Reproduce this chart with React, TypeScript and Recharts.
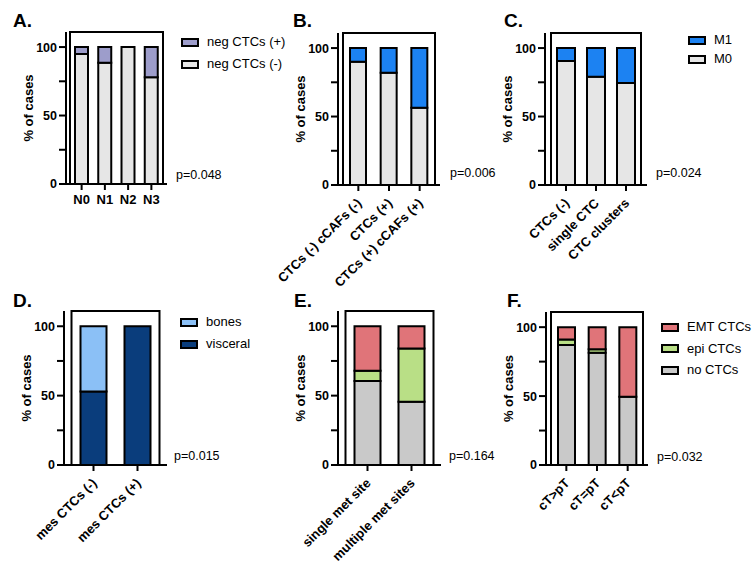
import React from "react"
import { BarChart, Bar, XAxis, YAxis, ReferenceArea } from "recharts"

const FONT = '"Liberation Sans", Arial, Helvetica, sans-serif'

// A. nodal status
const categoriesA = ["N0", "N1", "N2", "N3"]
const negMinusA = [95, 88.5, 100, 78]
const negPlusA = [5, 11.5, 0, 22]

// B. cCAFs
const categoriesB = ["CTCs (-) cCAFs (-)", "CTCs (+)", "CTCs (+) cCAFs (+)"]
const m0B = [90, 82, 56.5]
const m1B = [10, 18, 43.5]

// C. CTC clusters
const categoriesC = ["CTCs (-)", "single CTC", "CTC clusters"]
const m0C = [90.5, 79, 74.5]
const m1C = [9.5, 21, 25.5]

// D. mesenchymal CTCs
const categoriesD = ["mes CTCs (-)", "mes CTCs (+)"]
const visceralD = [53, 100]
const bonesD = [47, 0]

// E. met sites
const categoriesE = ["single met site", "multiple met sites"]
const noCtcE = [60.5, 45.5]
const epiE = [7.5, 38.5]
const emtE = [32, 16]

// F. cT vs pT
const categoriesF = ["cT>pT", "cT=pT", "cT<pT"]
const noCtcF = [87, 81.5, 49.5]
const epiF = [4, 2.5, 0]
const emtF = [9, 16, 50.5]

const yTicks = [0, 25, 50, 75, 100]

type Series = { key: string; label: string; color: string; values: number[] }

function buildRows(cats: string[], series: Series[]) {
  return cats.map((name, i) => {
    const row: any = { name }
    series.forEach((s) => (row[s.key] = s.values[i]))
    return row
  })
}

const seriesA: Series[] = [
  { key: "neg", label: "neg CTCs (-)", color: "#e6e6e6", values: negMinusA },
  { key: "pos", label: "neg CTCs (+)", color: "#9d9dcb", values: negPlusA },
]
const seriesB: Series[] = [
  { key: "m0", label: "M0", color: "#e6e6e6", values: m0B },
  { key: "m1", label: "M1", color: "#1c82f2", values: m1B },
]
const seriesC: Series[] = [
  { key: "m0", label: "M0", color: "#e6e6e6", values: m0C },
  { key: "m1", label: "M1", color: "#1c82f2", values: m1C },
]
const seriesD: Series[] = [
  { key: "vis", label: "visceral", color: "#0a3d7c", values: visceralD },
  { key: "bon", label: "bones", color: "#8bc0f6", values: bonesD },
]
const seriesE: Series[] = [
  { key: "no", label: "no CTCs", color: "#c9c9c9", values: noCtcE },
  { key: "epi", label: "epi CTCs", color: "#b9df86", values: epiE },
  { key: "emt", label: "EMT CTCs", color: "#e07479", values: emtE },
]
const seriesF: Series[] = [
  { key: "no", label: "no CTCs", color: "#c9c9c9", values: noCtcF },
  { key: "epi", label: "epi CTCs", color: "#b9df86", values: epiF },
  { key: "emt", label: "EMT CTCs", color: "#e07479", values: emtF },
]

type PanelCfg = {
  letter: string
  letterX: number
  letterY: number
  categories: string[]
  series: Series[]
  left: number
  right: number
  top: number
  bottom: number
  pad: number
  barSize: number
  rotate: boolean
  p: string
  pX: number
  pY: number
  legend?: { x: number; y: number; gap: number }
}

const panels: PanelCfg[] = [
  { letter: "A.", letterX: 13, letterY: 21, categories: categoriesA, series: seriesA, left: 66, right: 167, top: 32, bottom: 184, pad: 4, barSize: 13, rotate: false, p: "p=0.048", pX: 176, pY: 175, legend: { x: 181, y: 42, gap: 22 } },
  { letter: "B.", letterX: 293, letterY: 21, categories: categoriesB, series: seriesB, left: 338, right: 440, top: 33, bottom: 185, pad: 5, barSize: 16, rotate: true, p: "p=0.006", pX: 450, pY: 173 },
  { letter: "C.", letterX: 504, letterY: 21, categories: categoriesC, series: seriesC, left: 545, right: 647, top: 33, bottom: 185, pad: 6, barSize: 18, rotate: true, p: "p=0.024", pX: 656, pY: 173, legend: { x: 688, y: 40, gap: 19 } },
  { letter: "D.", letterX: 13, letterY: 301, categories: categoriesD, series: seriesD, left: 64, right: 167, top: 311, bottom: 465, pad: 7.5, barSize: 26, rotate: true, p: "p=0.015", pX: 174, pY: 456, legend: { x: 180, y: 322, gap: 22 } },
  { letter: "E.", letterX: 294, letterY: 301, categories: categoriesE, series: seriesE, left: 338, right: 441, top: 311, bottom: 465, pad: 7.5, barSize: 26, rotate: true, p: "p=0.164", pX: 449, pY: 456 },
  { letter: "F.", letterX: 507, letterY: 301, categories: categoriesF, series: seriesF, left: 546, right: 648, top: 312, bottom: 465, pad: 5, barSize: 17, rotate: true, p: "p=0.032", pX: 657, pY: 457, legend: { x: 661, y: 327, gap: 21.7 } },
]

const PAD_L = 90
const PAD_T = 10
const PAD_R = 10
const PAD_B = 110

const axisStyle = { stroke: "#000", strokeWidth: 2 }

function Panel({ cfg }: { cfg: PanelCfg }) {
  const w = cfg.right - cfg.left + PAD_L + PAD_R
  const h = cfg.bottom - cfg.top + PAD_T + PAD_B
  const plotH = cfg.bottom - cfg.top
  const data = buildRows(cfg.categories, cfg.series)

  const xTick = (props: any) => {
    const { x, y, payload } = props
    if (cfg.rotate) {
      return (
        <text
          transform={`translate(${x + 4},${y + 11}) rotate(-45)`}
          textAnchor="end"
          fontSize={13}
          fontWeight="bold"
          fontFamily={FONT}
          fill="#000"
        >
          {payload.value}
        </text>
      )
    }
    return (
      <text x={x} y={y + 2} dy="0.75em" textAnchor="middle" fontSize={13} fontWeight="bold" fontFamily={FONT} fill="#000">
        {payload.value}
      </text>
    )
  }

  const yLabel = () => (
    <text
      x={PAD_L - 38}
      y={PAD_T + plotH / 2}
      transform={`rotate(-90, ${PAD_L - 38}, ${PAD_T + plotH / 2})`}
      textAnchor="middle"
      dominantBaseline="central"
      fontSize={13}
      fontWeight="bold"
      fontFamily={FONT}
      fill="#000"
    >
      % of cases
    </text>
  )

  return (
    <div style={{ position: "absolute", left: cfg.left - PAD_L, top: cfg.top - PAD_T }}>
      <BarChart width={w} height={h} data={data} margin={{ top: PAD_T, right: PAD_R, bottom: 0, left: 0 }} barCategoryGap={0}>
        <XAxis
          dataKey="name"
          height={PAD_B}
          padding={{ left: cfg.pad, right: cfg.pad }}
          axisLine={axisStyle}
          tickLine={axisStyle}
          tickSize={6}
          tickMargin={2}
          interval={0}
          tick={xTick}
        />
        <YAxis
          type="number"
          width={PAD_L}
          domain={[0, 111]}
          ticks={yTicks}
          axisLine={axisStyle}
          tickLine={axisStyle}
          tickSize={7}
          tickMargin={2}
          tickFormatter={(v: number) => (v % 50 === 0 ? String(v) : "")}
          tick={{ fill: "#000", fontSize: 12.5, fontWeight: "bold", fontFamily: FONT }}
          label={{ value: "% of cases", content: yLabel }}
        />
        <ReferenceArea y1={0} y2={111} stroke="#000" strokeWidth={2} fill="none" fillOpacity={0} />
        {cfg.series.map((s) => (
          <Bar
            key={s.key}
            dataKey={s.key}
            stackId="a"
            fill={s.color}
            stroke="#000"
            strokeWidth={2}
            barSize={cfg.barSize}
            isAnimationActive={false}
          />
        ))}
      </BarChart>
    </div>
  )
}

function LegendBox({ cfg }: { cfg: PanelCfg }) {
  if (!cfg.legend) return null
  const items = [...cfg.series].reverse()
  return (
    <>
      {items.map((s, i) => (
        <div
          key={s.key}
          style={{
            position: "absolute",
            left: cfg.legend!.x,
            top: cfg.legend!.y + i * cfg.legend!.gap - 7,
            height: 14,
            display: "flex",
            alignItems: "center",
            whiteSpace: "nowrap",
          }}
        >
          <span
            style={{
              display: "inline-block",
              boxSizing: "border-box",
              width: 18,
              height: 9,
              border: "2px solid #000",
              background: s.color,
              marginRight: 8,
            }}
          />
          <span style={{ fontFamily: FONT, fontSize: 13, color: "#000", lineHeight: "14px" }}>{s.label}</span>
        </div>
      ))}
    </>
  )
}

export default function App() {
  return (
    <div style={{ position: "absolute", left: 0, top: 0, width: 754, height: 567, background: "#fff", overflow: "hidden" }}>
      {panels.map((cfg) => (
        <React.Fragment key={cfg.letter}>
          <Panel cfg={cfg} />
          <LegendBox cfg={cfg} />
          <div
            style={{
              position: "absolute",
              left: cfg.letterX,
              top: cfg.letterY - 10,
              fontFamily: FONT,
              fontSize: 19,
              fontWeight: "bold",
              lineHeight: "20px",
              color: "#000",
            }}
          >
            {cfg.letter}
          </div>
          <div
            style={{
              position: "absolute",
              left: cfg.pX,
              top: cfg.pY - 7,
              fontFamily: FONT,
              fontSize: 12.5,
              lineHeight: "14px",
              color: "#000",
              whiteSpace: "nowrap",
            }}
          >
            {cfg.p}
          </div>
        </React.Fragment>
      ))}
    </div>
  )
}
